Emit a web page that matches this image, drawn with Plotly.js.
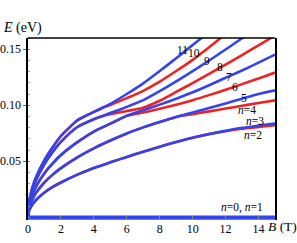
<!DOCTYPE html>
<html><head><meta charset="utf-8">
<script src="https://cdn.plot.ly/plotly-3.0.1.min.js"></script>
<style>html,body{margin:0;padding:0;background:#fff}#chart{width:297px;height:243px}</style>
</head><body><div id="chart"></div>
<script>
// Zero-energy levels
const B_zero = [0, 15];
const E_n0 = [0, 0];
const E_n1 = [-0.0013, -0.0013];

// Pair n=2 (red) / n=3 (blue)
const B_n23 = [0,0.05,0.15,0.3,0.5,1,1.5,2,3,4,5,6,7,8,9,10,11,12,13,14,15];
const E_n3 = [0,0.005,0.0085,0.012,0.0156,0.022,0.027,0.031,0.038,0.044,0.049,0.0538,0.0585,0.063,0.0672,0.071,0.0742,0.0772,0.0798,0.0818,0.0837];
const E_n2 = [0,0.005,0.0085,0.012,0.0156,0.022,0.027,0.031,0.038,0.044,0.049,0.0538,0.0585,0.063,0.0672,0.071,0.0742,0.0768,0.0790,0.0806,0.0822];

// Pair n=4 (red) / n=5 (blue)
const B_n45 = [0,0.05,0.15,0.3,0.5,1,1.5,2,3,4,5,6,7,8,9,10,11,12,13,14,15];
const E_n5 = [0,0.0069,0.012,0.017,0.022,0.031,0.038,0.0438,0.0535,0.0615,0.0685,0.0748,0.0802,0.085,0.0895,0.0935,0.0975,0.1015,0.1058,0.110,0.1133];
const E_n4 = [0,0.0069,0.012,0.017,0.022,0.031,0.038,0.0438,0.0535,0.0615,0.0685,0.0748,0.0802,0.085,0.0895,0.092,0.0945,0.097,0.0995,0.102,0.1043];

// Pair n=6 (red) / n=7 (blue)
const B_n67 = [0,0.05,0.15,0.3,0.5,1,1.5,2,3,4,5,6,7,8,9,10,11,12,13,14,15];
const E_n7 = [0,0.0088,0.0152,0.0215,0.0278,0.0393,0.048,0.0555,0.067,0.0765,0.0835,0.0905,0.0955,0.1005,0.1058,0.1115,0.1178,0.1245,0.131,0.138,0.1452];
const E_n6 = [0,0.0088,0.0152,0.0215,0.0278,0.0393,0.048,0.0555,0.067,0.0765,0.0835,0.0905,0.0935,0.0968,0.1005,0.1045,0.109,0.1138,0.1188,0.1238,0.1292];

// Pair n=8 (red) / n=9 (blue)
const B_n9 = [0,0.05,0.15,0.3,0.5,1,1.5,2,3,4,4.5,5,6,7,8,9,10,11,12,13,13.5];
const E_n9 = [0,0.0106,0.0184,0.026,0.0336,0.0475,0.0582,0.0672,0.0805,0.0875,0.0902,0.093,0.0985,0.1045,0.1125,0.1212,0.1304,0.1399,0.1497,0.1598,0.165];
const B_n8 = [0,0.05,0.15,0.3,0.5,1,1.5,2,3,4,4.5,5,6,7,8,9,10,11,12,13,14,15];
const E_n8 = [0,0.0106,0.0184,0.026,0.0336,0.0475,0.0582,0.0672,0.0805,0.0875,0.0902,0.092,0.0948,0.0978,0.104,0.1118,0.1198,0.128,0.1363,0.1448,0.1535,0.1622];

// Pair n=10 (red) / n=11 (blue)
const B_n11 = [0,0.05,0.15,0.3,0.5,1,1.5,2,3,3.5,4,4.5,5,6,7,8,9,10,11];
const E_n11 = [0,0.0114,0.0198,0.028,0.036,0.051,0.0625,0.0725,0.0865,0.0905,0.094,0.0975,0.1012,0.110,0.1195,0.1305,0.142,0.1537,0.1655];
const B_n10 = [0,0.05,0.15,0.3,0.5,1,1.5,2,3,3.5,4,4.5,5,6,7,8,9,10,11,12];
const E_n10 = [0,0.0114,0.0198,0.028,0.036,0.051,0.0625,0.0725,0.0865,0.0905,0.094,0.0975,0.1002,0.1063,0.1128,0.121,0.1305,0.1405,0.1518,0.1635];

// Axis ticks
const xTicks = [0,2,4,6,8,10,12,14];
const xTickText = ['0','2','4','6','8','10','12','14'];
const yTicks = [0.05,0.10,0.15];
const yTickText = ['0.05','0.10','0.15'];

// Level labels
const labelText = ['11','10','9','8','7','6','5','<i>n</i>=4','<i>n</i>=3','<i>n</i>=2','<i>n</i>=0, <i>n</i>=1'];
const labelB = [9.41,10.08,10.87,11.66,12.2,12.57,13.11,13.3,13.78,13.66,12.99];
const labelE = [0.1493,0.1466,0.1395,0.1341,0.1252,0.1163,0.1062,0.0957,0.0855,0.0738,0.0091];

const BLUE = '#3344ee', RED = '#ee2222';
const W = 2.6;
function tr(x, y, color, w) {
  return {x: x, y: y, type: 'scatter', mode: 'lines', line: {color: color, width: w || W, shape: 'spline', smoothing: 0.6}, hoverinfo: 'skip', showlegend: false};
}
const data = [
  tr(B_zero, E_n1, RED, 2),
  tr(B_n23, E_n2, RED), tr(B_n45, E_n4, RED), tr(B_n67, E_n6, RED), tr(B_n8, E_n8, RED), tr(B_n10, E_n10, RED),
  tr(B_zero, E_n0, BLUE, 3.5),
  tr(B_n23, E_n3, BLUE), tr(B_n45, E_n5, BLUE), tr(B_n67, E_n7, BLUE), tr(B_n9, E_n9, BLUE), tr(B_n11, E_n11, BLUE)
];

const FONT = '"Liberation Serif", "DejaVu Serif", serif';
const annotations = labelText.map((t, i) => ({
  x: labelB[i], y: labelE[i], xref: 'x', yref: 'y', text: t, showarrow: false,
  xanchor: 'center', yanchor: 'middle', font: {family: FONT, size: 11.5, color: '#000'}
}));
annotations.push({x: -0.109, y: 1.055, xref: 'paper', yref: 'paper', text: '<i>E</i> (eV)', showarrow: false,
  xanchor: 'left', yanchor: 'middle', font: {family: FONT, size: 14, color: '#000'}});
annotations.push({x: 0.962, y: -0.038, xref: 'paper', yref: 'paper', text: '<i>B</i> (T)', showarrow: false,
  xanchor: 'left', yanchor: 'middle', font: {family: FONT, size: 13.5, color: '#000'}});

const layout = {
  width: 297, height: 243,
  margin: {l: 28, r: 22, t: 38, b: 23},
  paper_bgcolor: '#fff', plot_bgcolor: '#fff',
  font: {family: FONT},
  showlegend: false,
  xaxis: {range: [0, 15], showline: false, showgrid: false, zeroline: false,
    tickmode: 'array', tickvals: xTicks, ticktext: xTickText, ticks: 'inside', ticklen: 4, tickcolor: '#888', tickwidth: 1,
    tickfont: {family: FONT, size: 12, color: '#000'}},
  yaxis: {range: [-0.0025, 0.16], showline: true, mirror: true, linecolor: '#000', linewidth: 1.6, showgrid: false, zeroline: false,
    tickmode: 'array', tickvals: yTicks, ticktext: yTickText, ticks: 'outside', ticklen: 3, tickcolor: '#666', tickwidth: 1,
    tickfont: {family: FONT, size: 12, color: '#000'},
    minor: {dtick: 0.01, tick0: 0, ticks: 'inside', ticklen: 2, tickcolor: '#999', tickwidth: 1}},
  shapes: [{type: 'line', xref: 'paper', yref: 'paper', x0: 0, x1: 1, y0: 1, y1: 1, line: {color: '#000', width: 1.6}}],
  annotations: annotations
};
Plotly.newPlot('chart', data, layout, {staticPlot: true, displayModeBar: false});
</script></body></html>
